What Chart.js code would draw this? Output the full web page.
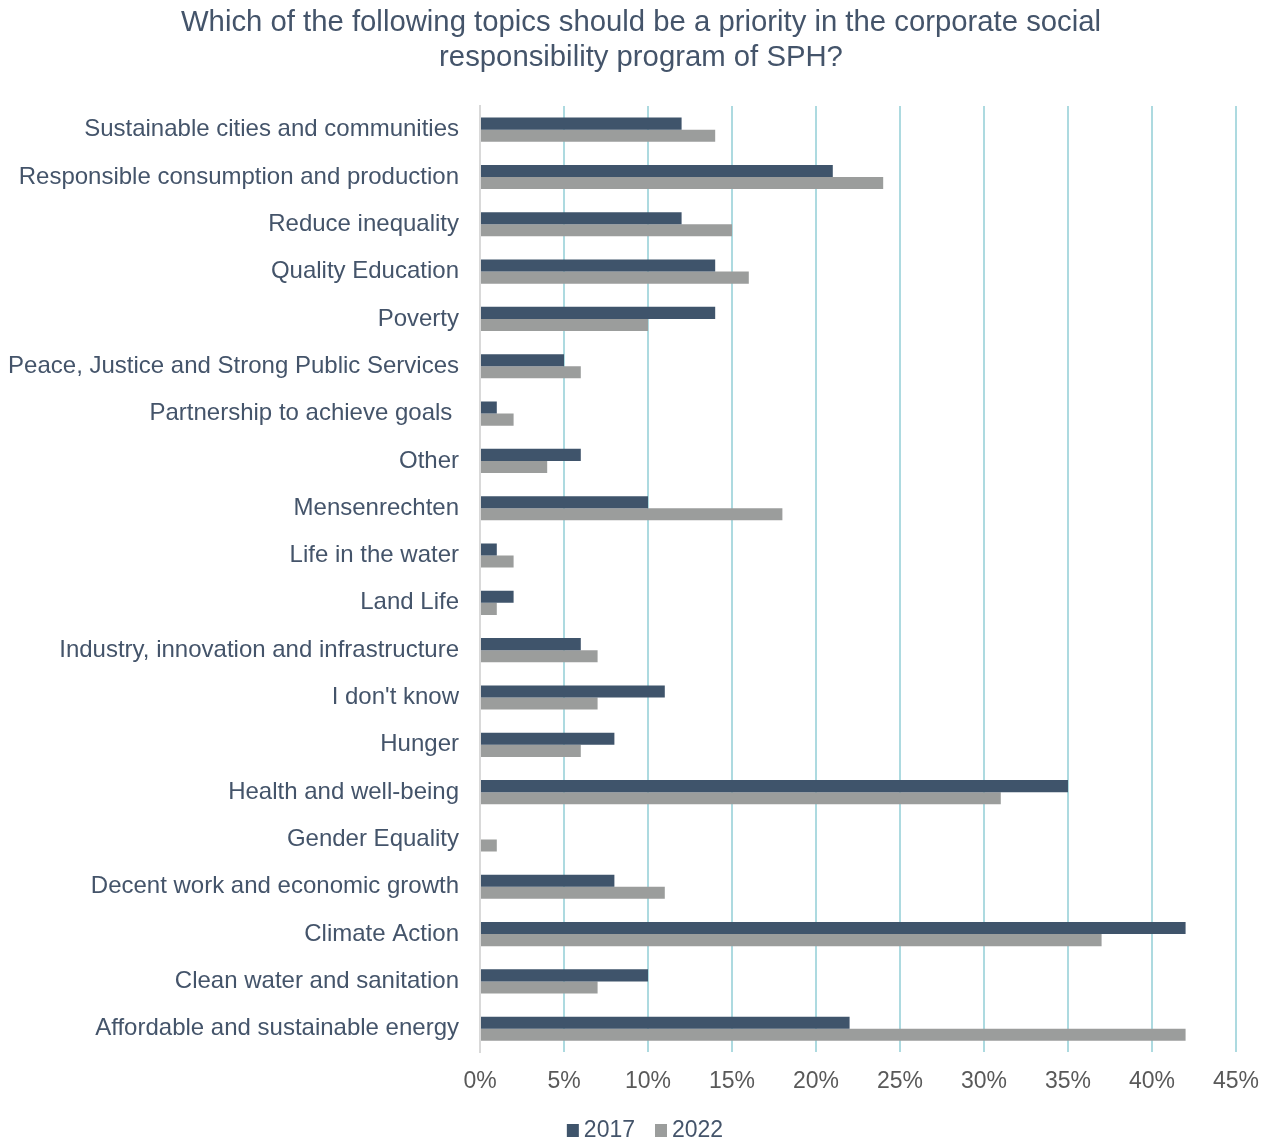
<!DOCTYPE html>
<html>
<head>
<meta charset="utf-8">
<script src="https://cdn.jsdelivr.net/npm/chart.js@4/dist/chart.umd.min.js"></script>
<style>
  html, body { margin: 0; padding: 0; background: #ffffff; }
  #wrap { width: 1274px; height: 1142px; position: relative; }
</style>
</head>
<body>
<div id="wrap"><canvas id="chart"></canvas></div>
<script>
// Survey topics, top to bottom
const topics = [
  "Sustainable cities and communities",
  "Responsible consumption and production",
  "Reduce inequality",
  "Quality Education",
  "Poverty",
  "Peace, Justice and Strong Public Services",
  "Partnership to achieve goals ",
  "Other",
  "Mensenrechten",
  "Life in the water",
  "Land Life",
  "Industry, innovation and infrastructure",
  "I don't know",
  "Hunger",
  "Health and well-being",
  "Gender Equality",
  "Decent work and economic growth",
  "Climate Action",
  "Clean water and sanitation",
  "Affordable and sustainable energy"
];

// Share of respondents (%)
const share2017 = [12, 21, 12, 14, 14, 5, 1, 6, 10, 1, 2, 6, 11, 8, 35, 0, 8, 42, 10, 22];
const share2022 = [14, 24, 15, 16, 10, 6, 2, 4, 18, 2, 1, 7, 7, 6, 31, 1, 11, 37, 7, 42];

const seriesNames = ["2017", "2022"];

const titleLines = [
  "Which of the following topics should be a priority in the corporate social",
  "responsibility program of SPH?"
];

const FONT = "'Liberation Sans', Arial, sans-serif";
const SLATE = "#44546A";

// Title on top and series key at the bottom, both centred on the whole figure
const headerAndKey = {
  id: "headerAndKey",
  afterDraw(chart) {
    const ctx = chart.ctx;
    ctx.save();
    ctx.fillStyle = SLATE;
    ctx.textBaseline = "middle";
    ctx.textAlign = "center";
    ctx.font = "29.3px " + FONT;
    titleLines.forEach((line, i) => ctx.fillText(line, 641, 23 + i * 35));

    ctx.font = "23px " + FONT;
    ctx.textAlign = "left";
    const boxW = 12, boxH = 13, gapText = 5, gapItem = 20;
    const items = chart.data.datasets.map(ds => ({
      label: ds.label, color: ds.backgroundColor, w: ctx.measureText(ds.label).width
    }));
    const total = items.reduce((s, it) => s + boxW + gapText + it.w, 0) + gapItem * (items.length - 1);
    let x = 645 - total / 2;
    const cy = 1131;
    items.forEach(it => {
      ctx.fillStyle = it.color;
      ctx.fillRect(x, cy - 7, boxW, boxH);
      ctx.fillStyle = SLATE;
      ctx.fillText(it.label, x + boxW + gapText, cy);
      x += boxW + gapText + it.w + gapItem;
    });
    ctx.restore();
  }
};

new Chart(document.getElementById("chart"), {
  type: "bar",
  data: {
    labels: topics,
    datasets: [
      { label: seriesNames[0], data: share2017, backgroundColor: "#3F546B" },
      { label: seriesNames[1], data: share2022, backgroundColor: "#9B9D9C" }
    ]
  },
  options: {
    indexAxis: "y",
    responsive: true,
    maintainAspectRatio: false,
    animation: false,
    datasets: { bar: { categoryPercentage: 0.51, barPercentage: 1.0 } },
    layout: { padding: { left: 0, right: 32, top: 106, bottom: 32 } },
    plugins: {
      title: { display: false },
      legend: { display: false },
      tooltip: { enabled: false }
    },
    scales: {
      x: {
        min: 0,
        max: 45,
        ticks: {
          stepSize: 5,
          color: "#595959",
          font: { family: FONT, size: 23 },
          padding: 15,
          callback: v => v + "%"
        },
        grid: {
          drawTicks: false,
          lineWidth: 2,
          color: ctx => ctx.index === 0 ? "#D9D9D9" : "#ADDAE0"
        },
        border: { display: false }
      },
      y: {
        ticks: {
          color: SLATE,
          font: { family: FONT, size: 24 },
          padding: 21,
          autoSkip: false
        },
        grid: { display: false, drawTicks: false },
        border: { display: true, color: "#D9D9D9", width: 2 },
        afterFit: axis => { axis.width = 480; }
      }
    }
  },
  plugins: [headerAndKey]
});
</script>
</body>
</html>
